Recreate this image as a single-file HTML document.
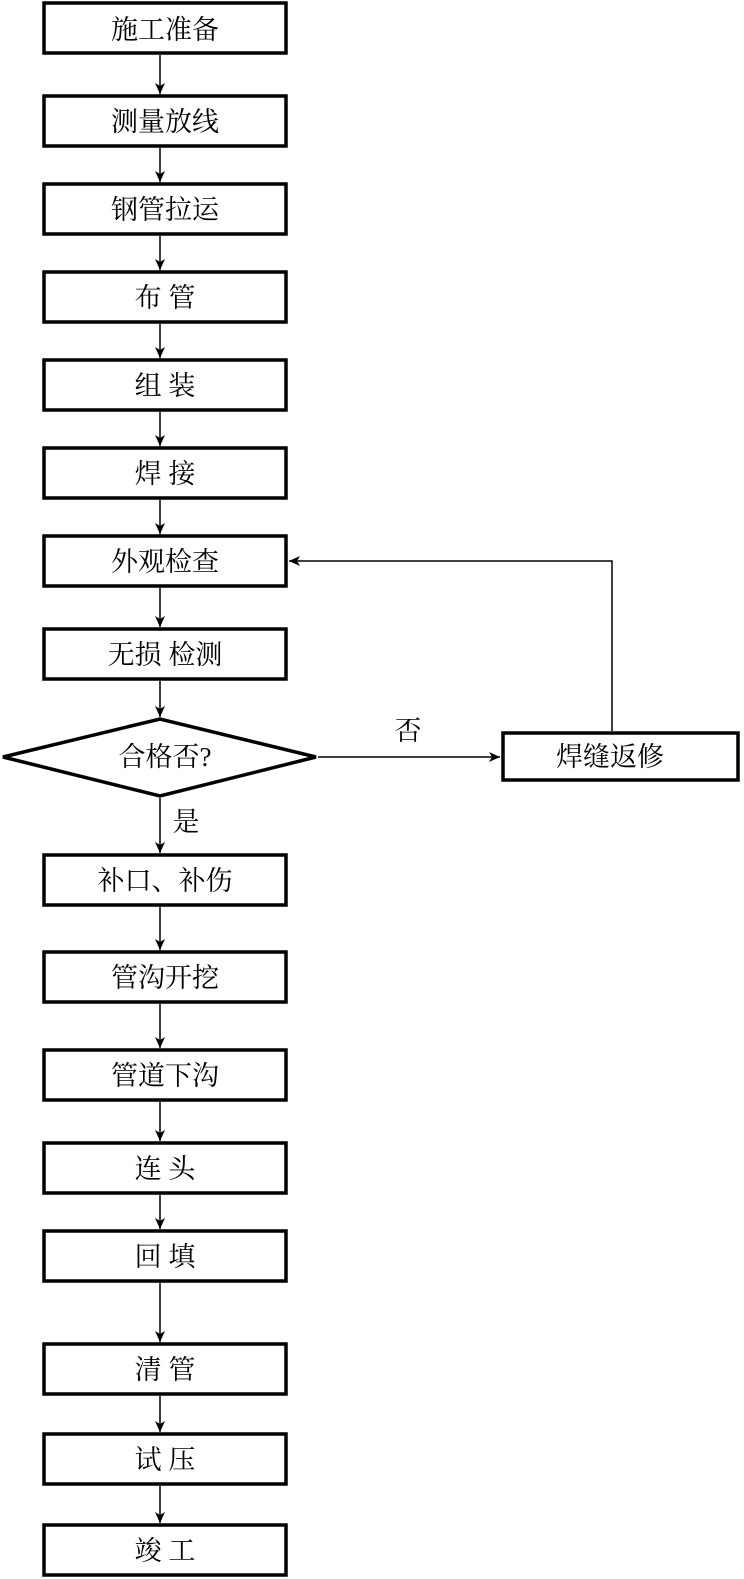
<!DOCTYPE html>
<html><head><meta charset="utf-8"><style>
html,body{margin:0;padding:0;background:#fff;}
svg{display:block;}
text{font-family:"Liberation Serif","Noto Serif CJK SC",serif;font-size:27px;fill:#000;text-anchor:middle;dominant-baseline:central;}
</style></head><body>
<svg width="744" height="1579" viewBox="0 0 744 1579" xmlns="http://www.w3.org/2000/svg">
<defs><marker id="a" markerWidth="12" markerHeight="12" refX="11" refY="5" orient="auto" markerUnits="userSpaceOnUse"><path d="M0,0 L11,5 L0,10 L3,5 Z" fill="#000"/></marker></defs>
<g fill="none" stroke="#000" stroke-width="3.5">
<rect x="44" y="3" width="242" height="50"/>
<rect x="44" y="96" width="242" height="50"/>
<rect x="44" y="184" width="242" height="50"/>
<rect x="44" y="272" width="242" height="50"/>
<rect x="44" y="360" width="242" height="50"/>
<rect x="44" y="448" width="242" height="50"/>
<rect x="44" y="536" width="242" height="50"/>
<rect x="44" y="629" width="242" height="50"/>
<polygon points="3,757 160,719 316,757 160,796"/>
<rect x="503" y="733" width="235" height="47"/>
<rect x="44" y="855" width="242" height="50"/>
<rect x="44" y="952" width="242" height="50"/>
<rect x="44" y="1050" width="242" height="50"/>
<rect x="44" y="1143" width="242" height="50"/>
<rect x="44" y="1231" width="242" height="50"/>
<rect x="44" y="1344" width="242" height="50"/>
<rect x="44" y="1434" width="242" height="50"/>
<rect x="44" y="1525" width="242" height="50"/>
</g>
<g stroke="#000" stroke-width="1.5" marker-end="url(#a)">
<line x1="160" y1="55" x2="160" y2="94"/>
<line x1="160" y1="148" x2="160" y2="182"/>
<line x1="160" y1="236" x2="160" y2="270"/>
<line x1="160" y1="324" x2="160" y2="358"/>
<line x1="160" y1="412" x2="160" y2="446"/>
<line x1="160" y1="500" x2="160" y2="534"/>
<line x1="160" y1="588" x2="160" y2="627"/>
<line x1="160" y1="681" x2="160" y2="717"/>
<line x1="160" y1="798" x2="160" y2="853"/>
<line x1="160" y1="907" x2="160" y2="950"/>
<line x1="160" y1="1004" x2="160" y2="1048"/>
<line x1="160" y1="1102" x2="160" y2="1141"/>
<line x1="160" y1="1195" x2="160" y2="1229"/>
<line x1="160" y1="1283" x2="160" y2="1342"/>
<line x1="160" y1="1396" x2="160" y2="1432"/>
<line x1="160" y1="1486" x2="160" y2="1523"/>
<line x1="318" y1="757" x2="500" y2="757"/>
<polyline points="612,731 612,561 289,561" fill="none"/>
</g>
<text x="165" y="30">施工准备</text>
<text x="165" y="122">测量放线</text>
<text x="165" y="210">钢管拉运</text>
<text x="165" y="298">布 管</text>
<text x="165" y="386">组 装</text>
<text x="165" y="474">焊 接</text>
<text x="165" y="562">外观检查</text>
<text x="165" y="655">无损 检测</text>
<text x="165" y="757">合格否?</text>
<text x="408" y="731">否</text>
<text x="610" y="757">焊缝返修</text>
<text x="186" y="822">是</text>
<text x="165" y="881">补口、补伤</text>
<text x="165" y="978">管沟开挖</text>
<text x="165" y="1076">管道下沟</text>
<text x="165" y="1169">连 头</text>
<text x="165" y="1257">回 填</text>
<text x="165" y="1370">清 管</text>
<text x="165" y="1460">试 压</text>
<text x="165" y="1551">竣 工</text>
</svg>
</body></html>
